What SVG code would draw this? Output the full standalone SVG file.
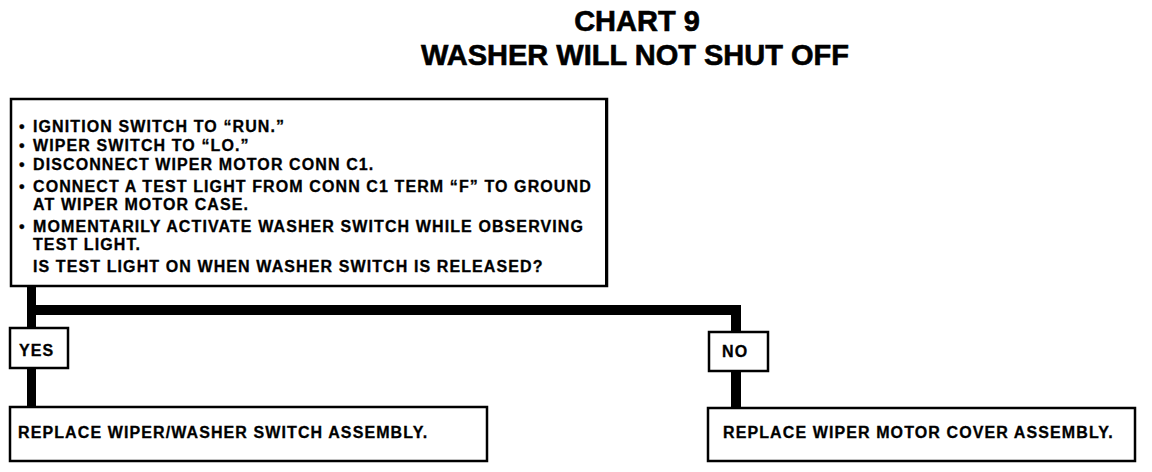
<svg xmlns="http://www.w3.org/2000/svg" width="1152" height="472" viewBox="0 0 1152 472">
<style>
.title{font-family:"Liberation Sans",Arial,sans-serif;font-weight:bold;font-size:29px;fill:#000;stroke:#000;stroke-width:0.6;text-anchor:middle}
.t{font-family:"Liberation Sans",Arial,sans-serif;font-weight:bold;font-size:16px;letter-spacing:1.1px;fill:#000;stroke:#000;stroke-width:0.3}
.box{fill:#fff;stroke:#000;stroke-width:2.5}
.line{fill:#000;stroke:none}
</style>
<rect width="1152" height="472" fill="#fff"/>
<g id="title">
<text class="title" x="637" y="31">CHART 9</text>
<text class="title" x="635" y="65">WASHER WILL NOT SHUT OFF</text>
</g>
<g id="connectors">
<rect class="line" x="27" y="286" width="9" height="121"/>
<rect class="line" x="27" y="305" width="714" height="10"/>
<rect class="line" x="731" y="305" width="10" height="102"/>
</g>
<g id="question">
<rect class="box" x="11" y="99" width="596" height="187"/>
<rect class="line" x="605" y="99" width="3" height="188"/>
<text class="t" x="19" y="132">•</text><text class="t" x="33" y="132">IGNITION SWITCH TO “RUN.”</text>
<text class="t" x="19" y="151">•</text><text class="t" x="33" y="151">WIPER SWITCH TO “LO.”</text>
<text class="t" x="19" y="170">•</text><text class="t" x="33" y="170">DISCONNECT WIPER MOTOR CONN C1.</text>
<text class="t" x="19" y="192">•</text><text class="t" x="33" y="192">CONNECT A TEST LIGHT FROM CONN C1 TERM “F” TO GROUND</text>
<text class="t" x="33" y="210">AT WIPER MOTOR CASE.</text>
<text class="t" x="19" y="232">•</text><text class="t" x="33" y="232">MOMENTARILY ACTIVATE WASHER SWITCH WHILE OBSERVING</text>
<text class="t" x="33" y="250">TEST LIGHT.</text>
<text class="t" x="33" y="272">IS TEST LIGHT ON WHEN WASHER SWITCH IS RELEASED?</text>
</g>
<g id="yes">
<rect class="box" x="10" y="328" width="58" height="40"/>
<text class="t" x="19" y="356">YES</text>
</g>
<g id="no">
<rect class="box" x="709" y="332" width="59" height="39"/>
<text class="t" x="722" y="357">NO</text>
</g>
<g id="replace-switch">
<rect class="box" x="10" y="407" width="477" height="54"/>
<text class="t" x="18" y="438">REPLACE WIPER/WASHER SWITCH ASSEMBLY.</text>
</g>
<g id="replace-cover">
<rect class="box" x="708" y="408" width="427" height="53"/>
<text class="t" x="723" y="438">REPLACE WIPER MOTOR COVER ASSEMBLY.</text>
</g>
</svg>
